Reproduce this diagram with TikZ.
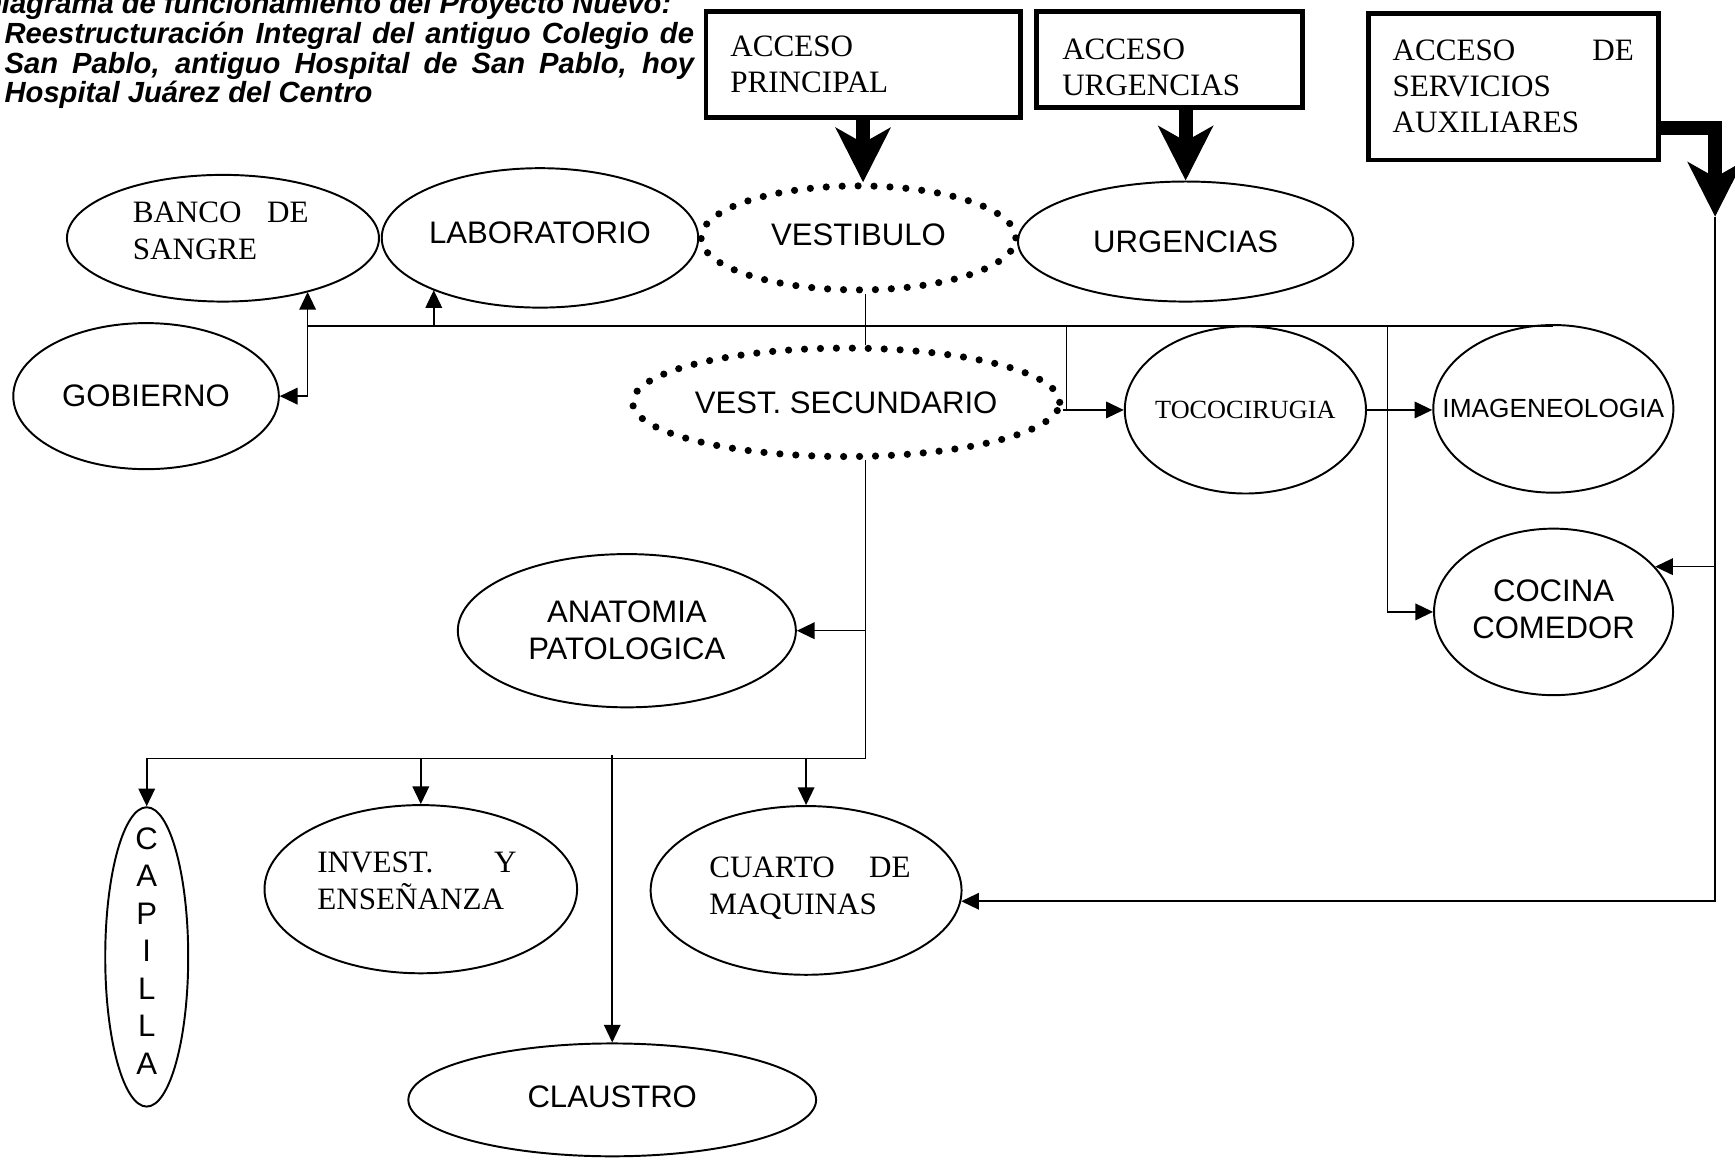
\documentclass[tikz,border=0pt]{standalone}
\usepackage{fontspec}
\setmainfont{Liberation Serif}
\newfontfamily\arial{Liberation Sans}
\usetikzlibrary{arrows.meta,shapes.geometric}

\begin{document}
\begin{tikzpicture}[line width=0.8pt,
  sala/.style={draw,ellipse,line width=1pt,inner sep=0pt},
  punteada/.style={sala,line width=3.7pt,line cap=round,dash pattern=on 0pt off 8.2pt},
  acceso/.style={draw,rectangle,line width=2.5pt,align=left,inner sep=0pt,font=\fontsize{16}{18.5}\selectfont},
  txtsans/.style={font=\arial\fontsize{16}{19}\selectfont,align=center},
  txtserif/.style={font=\fontsize{16}{19}\selectfont,align=left},
  titulo/.style={font=\arial\bfseries\itshape\fontsize{15}{15.4}\selectfont,inner sep=0pt,anchor=base west},
  flecha/.style={-{Triangle[length=3.2mm,width=3mm]}},
  gruesa/.style={line width=7.2pt,-{Stealth[length=9.8mm,width=9.8mm,inset=2.7mm]}}]
  \path[use as bounding box,clip] (0,0) rectangle (31.36,-20.96);
  % titulo
  \node[titulo] (tit0) at (-0.36,-0.24) {Diagrama de funcionamiento del Proyecto Nuevo:};
  \node[titulo] (tit1) at (0.07,-0.78) {\makebox[12.46cm][s]{Reestructuración Integral del antiguo Colegio de}};
  \node[titulo] (tit2) at (0.07,-1.32) {\makebox[12.46cm][s]{San Pablo, antiguo Hospital de San Pablo, hoy}};
  \node[titulo] (tit3) at (0.07,-1.86) {Hospital Juárez del Centro};
  % accesos
  \node[acceso,minimum width=5.68cm,minimum height=1.91cm,text width=4.8cm] (acc1) at (15.6,-1.165) {ACCESO\\PRINCIPAL};
  \node[acceso,minimum width=4.8cm,minimum height=1.73cm,
    label={[acceso,draw=none,text width=3.88cm,yshift=-0.14cm]center:ACCESO\\URGENCIAS}] (acc2) at (21.14,-1.075) {};
  \node[acceso,minimum width=5.24cm,minimum height=2.65cm,text width=4.36cm] (acc3) at (27.35,-1.566) {ACCESO\hfill DE\\SERVICIOS\\AUXILIARES};
  % locales
  \node[sala,minimum width=5.64cm,minimum height=2.29cm,
    label={[txtserif,text width=3.18cm,xshift=-0.04cm,yshift=0.14cm]center:BANCO\hfill DE\\SANGRE}] (banco) at (4.03,-4.306) {};
  \node[sala,minimum width=5.72cm,minimum height=2.52cm,label={[txtsans,yshift=0.09cm]center:LABORATORIO}] (lab) at (9.76,-4.30) {};
  \node[punteada,minimum width=5.69cm,minimum height=1.88cm,label={[txtsans,yshift=0.06cm]center:VESTIBULO}] (vest) at (15.516,-4.30) {};
  \node[sala,minimum width=6.06cm,minimum height=2.17cm,label={[txtsans]center:URGENCIAS}] (urg) at (21.43,-4.366) {};
  \node[sala,minimum width=4.8cm,minimum height=2.64cm,label={[txtsans]center:GOBIERNO}] (gob) at (2.64,-7.16) {};
  \node[punteada,minimum width=7.72cm,minimum height=1.96cm,label={[txtsans]center:VEST. SECUNDARIO}] (vsec) at (15.294,-7.272) {};
  \node[sala,minimum width=4.36cm,minimum height=3.02cm,
    label={[font=\fontsize{13.5}{16}\selectfont]center:TOCOCIRUGIA}] (toco) at (22.51,-7.41) {};
  \node[sala,minimum width=4.34cm,minimum height=3.03cm,
    label={[font=\arial\fontsize{13.5}{16}\selectfont]center:IMAGENEOLOGIA}] (imag) at (28.076,-7.39) {};
  \node[sala,minimum width=6.11cm,minimum height=2.77cm,label={[txtsans]center:ANATOMIA\\PATOLOGICA}] (ana) at (11.33,-11.40) {};
  \node[sala,minimum width=4.32cm,minimum height=3.01cm,label={[txtsans,yshift=0.04cm]center:COCINA\\COMEDOR}] (cocina) at (28.08,-11.06) {};
  \node[sala,minimum width=1.5cm,minimum height=5.41cm,
    label={[txtsans,font=\arial\fontsize{16}{19.3}\selectfont,yshift=0.11cm]center:C\\A\\P\\I\\L\\L\\A}] (capilla) at (2.652,-17.296) {};
  \node[sala,minimum width=5.65cm,minimum height=3.04cm,
    label={[txtserif,text width=3.6cm,xshift=-0.07cm,yshift=0.15cm]center:INVEST.\hfill Y\\ENSEÑANZA}] (invest) at (7.606,-16.072) {};
  \node[sala,minimum width=5.62cm,minimum height=3.05cm,
    label={[txtserif,text width=3.64cm,xshift=0.07cm,yshift=0.04cm]center:CUARTO\hfill DE\\MAQUINAS}] (cuarto) at (14.57,-16.094) {};
  \node[sala,minimum width=7.37cm,minimum height=2.04cm,label={[txtsans,yshift=0.06cm]center:CLAUSTRO}] (claustro) at (11.066,-19.88) {};
  % puntos de los ramales
  \coordinate (b1) at (5.56,-5.892);
  \coordinate (b2) at (7.84,-5.892);
  \coordinate (eje) at (15.64,-5.892);
  \coordinate (b4) at (19.28,-5.892);
  \coordinate (b5) at (25.08,-5.892);
  \coordinate (b6) at (15.64,-13.706);
  \coordinate (b7) at (11.066,-13.646);
  \coordinate (aux) at (31.0,-3.916);
  % entradas
  \draw[gruesa] (acc1.south) -- (acc1.south |- vest.north);
  \draw[gruesa] (acc2.south -| urg.north) -- (urg.north);
  \draw[gruesa] ([yshift=0.62cm]acc3.south east) -| (aux);
  % circulacion superior
  \draw (b1) -- (b1 -| imag.north);
  \draw[flecha] (b1) -- (b1 |- banco.-32);
  \draw[flecha] (b1) |- (gob.east);
  \draw[flecha] (b2) -- (b2 |- lab.206);
  \draw (vest.south -| eje) -- (vsec.north -| eje);
  \draw (b4) -- (b4 |- toco.west);
  \draw[flecha] (vsec.east |- toco.west) -- (toco.west);
  \draw[flecha] (toco.east) -- (toco.east -| imag.west);
  \draw[flecha] (b5) |- (cocina.west);
  % circulacion inferior
  \draw (vsec.south -| eje) -- (b6) -- (b6 -| capilla.north);
  \draw[flecha] (eje |- ana.east) -- (ana.east);
  \foreach \n in {capilla,invest,cuarto}
    \draw[flecha] (b6 -| \n.north) -- (\n.north);
  \draw[flecha] (b7) -- (claustro.north);
  % servicios auxiliares
  \draw[flecha] (aux) |- (cuarto.-4);
  \draw[flecha] (aux |- cocina.24) -- (cocina.24);
\end{tikzpicture}
\end{document}
